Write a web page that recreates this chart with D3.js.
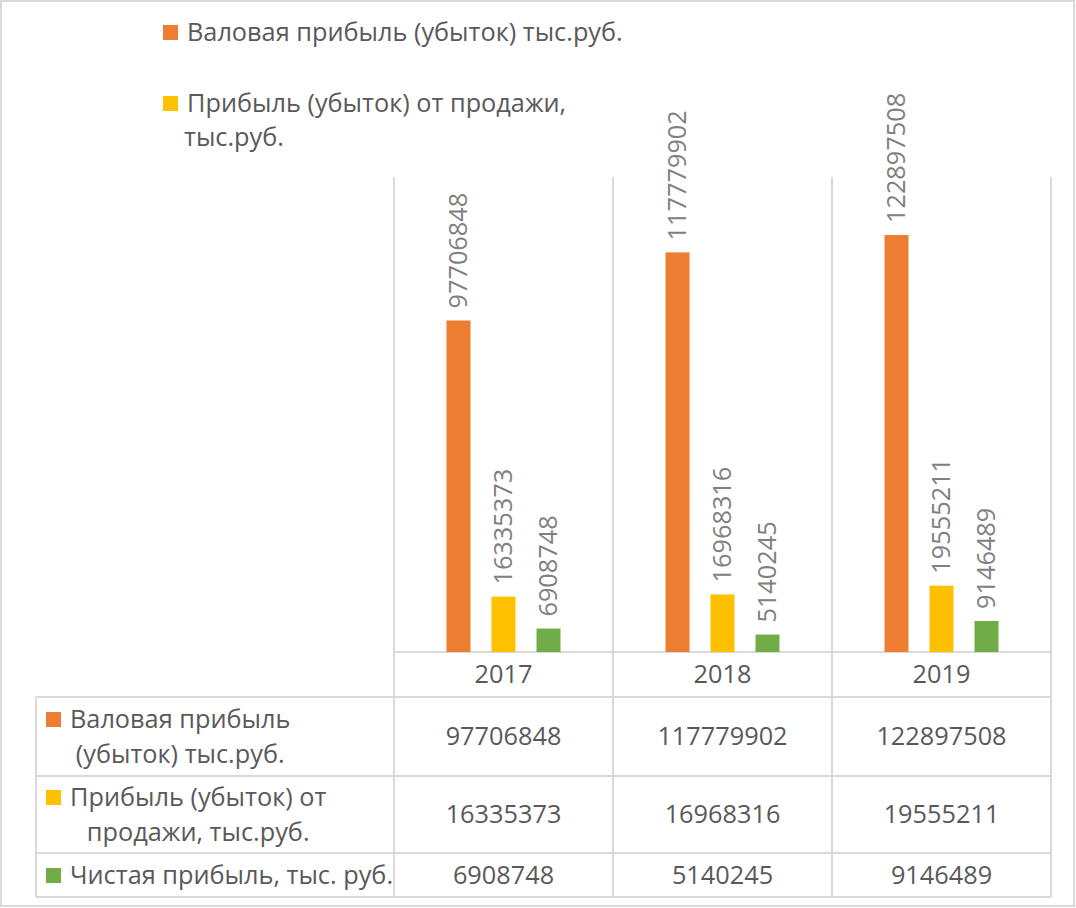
<!DOCTYPE html>
<html>
<head>
<meta charset="utf-8">
<script src="https://cdn.jsdelivr.net/npm/d3@7"></script>
<style>
	html, body { margin: 0; padding: 0; background: #fff; }
	svg { display: block; font-family: 'Open Sans', 'Noto Sans', sans-serif; }
</style>
</head>
<body>
<svg id="chart"></svg>
<script>
const years = ['2017', '2018', '2019'];
const seriesNames = [
	'Валовая прибыль (убыток) тыс.руб.',
	'Прибыль (убыток) от продажи, тыс.руб.',
	'Чистая прибыль, тыс. руб.',
];
const grossProfit = [97706848, 117779902, 122897508];
const salesProfit = [16335373, 16968316, 19555211];
const netProfit = [6908748, 5140245, 9146489];
const seriesColors = ['#ED7D31', '#FFC000', '#70AD47'];
// legend is clipped in the original, only two entries are visible
const legendLines = [
	['Валовая прибыль (убыток) тыс.руб.'],
	['Прибыль (убыток) от продажи,', 'тыс.руб.'],
];
const tableLines = [
	['Валовая прибыль', '(убыток) тыс.руб.'],
	['Прибыль (убыток) от', 'продажи, тыс.руб.'],
	['Чистая прибыль, тыс. руб.'],
];
const yMax = 140000000;

const W = 1076, H = 908;
const plot = { left: 394, right: 1051, top: 177, bottom: 652 };
const table = { left: 36, rows: [652, 697, 776, 853, 897] };
const textColor = '#595959';
const labelColor = '#808080';
const gridColor = '#d9d9d9';
const fontSize = 25.3;

const values = [grossProfit, salesProfit, netProfit];

const svg = d3.select('#chart')
	.attr('width', W)
	.attr('height', H);

svg.append('rect')
	.attr('x', 1)
	.attr('y', 1)
	.attr('width', W - 3)
	.attr('height', H - 3)
	.attr('fill', '#fff')
	.attr('stroke', gridColor)
	.attr('stroke-width', 2);

const x = d3.scaleBand()
	.domain(years)
	.range([plot.left, plot.right]);

const inner = d3.scaleBand()
	.domain(d3.range(seriesNames.length))
	.range([0, 114])
	.paddingInner(21 / 45);

const y = d3.scaleLinear()
	.domain([0, yMax])
	.range([plot.bottom, plot.top]);

// vertical grid / table column lines
const edges = years.map(d => x(d)).concat([plot.right]);
svg.append('g')
	.selectAll('line')
	.data(edges)
	.join('line')
	.attr('x1', d => d)
	.attr('x2', d => d)
	.attr('y1', plot.top)
	.attr('y2', table.rows[table.rows.length - 1])
	.attr('stroke', gridColor)
	.attr('stroke-width', 2);

// horizontal table lines
svg.append('g')
	.selectAll('line')
	.data(table.rows)
	.join('line')
	.attr('x1', (d, i) => i == 0 ? plot.left : table.left)
	.attr('x2', plot.right)
	.attr('y1', d => d)
	.attr('y2', d => d)
	.attr('stroke', gridColor)
	.attr('stroke-width', 2);

svg.append('line')
	.attr('x1', table.left)
	.attr('x2', table.left)
	.attr('y1', table.rows[1])
	.attr('y2', table.rows[table.rows.length - 1])
	.attr('stroke', gridColor)
	.attr('stroke-width', 2);

// bars and rotated value labels
const groupOffset = (x.bandwidth() - 114) / 2;
values.forEach((vals, s) => {
	const g = svg.append('g');
	g.selectAll('rect')
		.data(vals)
		.join('rect')
		.attr('x', (d, i) => x(years[i]) + groupOffset + inner(s))
		.attr('y', d => y(d))
		.attr('width', inner.bandwidth())
		.attr('height', d => y(0) - y(d))
		.attr('fill', seriesColors[s]);

	g.selectAll('text')
		.data(vals)
		.join('text')
		.attr('transform', (d, i) => {
			let cx = x(years[i]) + groupOffset + inner(s) + inner.bandwidth() / 2;
			return `translate(${cx},${y(d) - 12}) rotate(-90)`;
		})
		.attr('dy', '0.35em')
		.attr('font-size', fontSize)
		.attr('fill', labelColor)
		.text(d => d);
});

// category labels
svg.append('g')
	.selectAll('text')
	.data(years)
	.join('text')
	.attr('x', d => x(d) + x.bandwidth() / 2)
	.attr('y', (table.rows[0] + table.rows[1]) / 2)
	.attr('dy', '0.35em')
	.attr('text-anchor', 'middle')
	.attr('font-size', fontSize)
	.attr('fill', textColor)
	.text(d => d);

// table rows
values.forEach((vals, s) => {
	const top = table.rows[s + 1];
	const bottom = table.rows[s + 2];
	const mid = (top + bottom) / 2;
	const g = svg.append('g');

	g.selectAll('text.val')
		.data(vals)
		.join('text')
		.attr('class', 'val')
		.attr('x', (d, i) => x(years[i]) + x.bandwidth() / 2)
		.attr('y', mid)
		.attr('dy', '0.35em')
		.attr('text-anchor', 'middle')
		.attr('font-size', fontSize)
		.attr('fill', textColor)
		.text(d => d);

	const lines = tableLines[s];
	const lineH = 35;
	const firstY = mid - (lines.length - 1) * lineH / 2;

	g.append('rect')
		.attr('x', 46)
		.attr('y', firstY - 7)
		.attr('width', 15)
		.attr('height', 15)
		.attr('fill', seriesColors[s]);

	const texts = g.selectAll('text.lab')
		.data(lines)
		.join('text')
		.attr('class', 'lab')
		.attr('x', 70)
		.attr('y', (d, i) => firstY + i * lineH)
		.attr('dy', '0.35em')
		.attr('font-size', fontSize)
		.attr('fill', textColor)
		.text(d => d);

	// lines of one label are centred on each other
	const widths = texts.nodes().map(n => n.getComputedTextLength());
	const maxW = d3.max(widths);
	texts.attr('x', (d, i) => 70 + (maxW - widths[i]) / 2);
});

// legend
const legendY = [32, 103];
legendLines.forEach((lines, s) => {
	const g = svg.append('g');
	g.append('rect')
		.attr('x', 163)
		.attr('y', legendY[s] - 7)
		.attr('width', 15)
		.attr('height', 15)
		.attr('fill', seriesColors[s]);
	g.selectAll('text')
		.data(lines)
		.join('text')
		.attr('x', (d, i) => i == 0 ? 187 : 184)
		.attr('y', (d, i) => legendY[s] + i * 34)
		.attr('dy', '0.35em')
		.attr('font-size', fontSize)
		.attr('fill', textColor)
		.text(d => d);
});
</script>
</body>
</html>
